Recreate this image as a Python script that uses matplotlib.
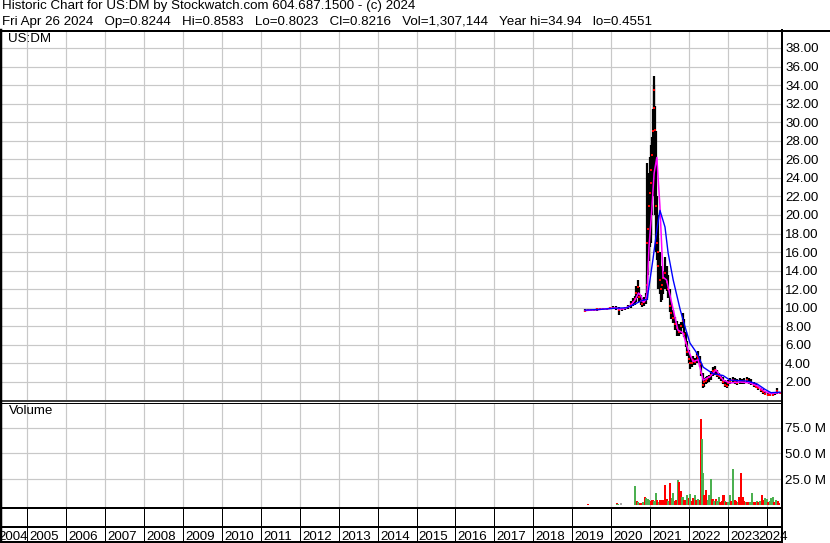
import matplotlib
matplotlib.use('Agg')
import matplotlib.pyplot as plt
from matplotlib.lines import Line2D

plt.rcParams['font.family'] = ['Liberation Sans', 'DejaVu Sans']
plt.rcParams['font.size'] = 9.6

# price bars: date (decimal year), high, low, close
bar_dates = [2019.33, 2019.40, 2019.48, 2019.56, 2019.64, 2019.72, 2019.80, 2019.88, 2019.96,
             2020.04, 2020.12, 2020.20, 2020.28, 2020.36, 2020.44, 2020.50, 2020.55, 2020.60,
             2020.64, 2020.68, 2020.72, 2020.76, 2020.80, 2020.84, 2020.88, 2020.91, 2020.93,
             2020.95, 2020.97, 2020.99, 2021.01, 2021.03, 2021.05, 2021.07, 2021.09, 2021.11,
             2021.13, 2021.15, 2021.17, 2021.19, 2021.21, 2021.24, 2021.27, 2021.30, 2021.34,
             2021.38, 2021.42, 2021.46, 2021.50, 2021.54, 2021.58, 2021.63, 2021.68, 2021.73,
             2021.78, 2021.83, 2021.87, 2021.91, 2021.95, 2021.99, 2022.03, 2022.07, 2022.11,
             2022.15, 2022.19, 2022.23, 2022.27, 2022.31, 2022.35, 2022.39, 2022.43, 2022.47,
             2022.51, 2022.56, 2022.61, 2022.66, 2022.71, 2022.76, 2022.81, 2022.86, 2022.91,
             2022.96, 2023.01, 2023.06, 2023.12, 2023.18, 2023.24, 2023.30, 2023.36, 2023.42,
             2023.48, 2023.54, 2023.60, 2023.66, 2023.72, 2023.78, 2023.84, 2023.90, 2023.96,
             2024.02, 2024.08, 2024.14, 2024.20, 2024.26, 2024.32]
highs = [9.85, 9.85, 9.90, 9.92, 9.95, 9.98, 10.00, 10.02, 10.10,
         10.15, 10.15, 10.10, 10.00, 10.10, 10.30, 10.70, 11.00, 11.30,
         12.30, 13.00, 12.20, 11.40, 11.00, 11.20, 11.60, 13.50, 25.60,
         23.00, 24.50, 26.30, 26.00, 27.50, 28.40, 31.40, 35.00, 34.00,
         31.70, 29.00, 22.00, 20.00, 17.50, 16.00, 14.50, 13.50, 14.00,
         15.50, 14.50, 13.50, 12.00, 10.50, 9.80, 9.00, 8.60, 8.20,
         8.50, 9.40, 8.80, 7.40, 6.40, 5.40, 4.80, 4.50, 4.80,
         4.60, 5.20, 5.30, 4.80, 4.00, 3.00, 2.40, 2.50, 2.60,
         2.80, 3.20, 3.60, 3.70, 3.30, 3.00, 2.80, 2.50, 2.20,
         2.00, 2.20, 2.40, 2.50, 2.40, 2.30, 2.40, 2.30, 2.40,
         2.50, 2.40, 2.30, 2.00, 1.80, 1.60, 1.40, 1.20, 1.00,
         0.80, 0.70, 0.75, 0.95, 1.35, 0.86]
lows = [9.55, 9.60, 9.62, 9.65, 9.70, 9.72, 9.75, 9.78, 9.82,
        9.85, 9.80, 9.25, 9.60, 9.80, 9.90, 10.00, 10.20, 10.30,
        10.60, 11.00, 10.60, 10.30, 10.10, 10.20, 10.40, 10.80, 11.00,
        13.50, 15.00, 16.50, 17.00, 18.00, 20.00, 22.00, 24.00, 25.00,
        20.00, 16.00, 15.20, 14.50, 12.00, 11.50, 10.60, 10.80, 11.50,
        12.00, 11.80, 11.00, 9.50, 8.80, 8.40, 7.60, 7.00, 7.00,
        7.20, 7.80, 6.80, 5.80, 4.80, 4.00, 3.40, 3.60, 3.80,
        3.80, 4.00, 4.20, 3.60, 2.60, 1.40, 1.50, 1.80, 1.90,
        2.00, 2.20, 2.60, 2.80, 2.50, 2.30, 2.10, 1.80, 1.50,
        1.40, 1.60, 1.80, 1.90, 1.80, 1.70, 1.80, 1.80, 1.80,
        1.90, 1.80, 1.70, 1.50, 1.30, 1.10, 0.90, 0.70, 0.60,
        0.50, 0.46, 0.50, 0.65, 0.75, 0.80]
closes = [9.70, 9.72, 9.75, 9.80, 9.82, 9.85, 9.88, 9.90, 9.95,
          10.00, 9.98, 9.80, 9.85, 9.95, 10.10, 10.40, 10.60, 10.90,
          11.60, 12.20, 11.20, 10.70, 10.40, 10.60, 10.90, 12.50, 17.00,
          18.50, 21.00, 22.40, 23.50, 24.90, 26.50, 29.00, 33.50, 31.50,
          29.20, 21.00, 17.00, 16.00, 14.50, 13.00, 12.00, 12.50, 13.20,
          13.80, 12.80, 12.00, 10.20, 9.40, 8.90, 8.30, 7.80, 7.40,
          8.00, 8.60, 7.20, 6.20, 5.20, 4.50, 4.00, 4.10, 4.40,
          4.20, 4.80, 4.60, 3.90, 3.00, 1.70, 2.00, 2.10, 2.30,
          2.50, 2.80, 3.20, 3.30, 2.80, 2.60, 2.40, 2.00, 1.70,
          1.60, 1.90, 2.10, 2.20, 2.00, 1.90, 2.10, 2.00, 2.10,
          2.20, 2.00, 1.90, 1.70, 1.50, 1.30, 1.10, 0.90, 0.75,
          0.62, 0.55, 0.62, 0.80, 1.00, 0.82]

# moving averages as drawn
ma_short_dates = [2019.33, 2019.60, 2019.90, 2020.10, 2020.22, 2020.35, 2020.50, 2020.62, 2020.70,
                  2020.76, 2020.82, 2020.88, 2020.92, 2020.97, 2021.04, 2021.10, 2021.17, 2021.25,
                  2021.33, 2021.42, 2021.58, 2021.71, 2021.84, 2021.97, 2022.10, 2022.23, 2022.36,
                  2022.54, 2022.69, 2022.87, 2023.05, 2023.31, 2023.56, 2023.74, 2023.95, 2024.10,
                  2024.32]
ma_short = [9.70, 9.78, 9.90, 9.98, 9.85, 9.92, 10.25, 10.90, 11.60,
            11.30, 10.60, 10.80, 11.60, 16.60, 20.50, 24.50, 26.20, 20.90,
            13.30, 13.00, 10.00, 7.60, 7.30, 5.50, 4.20, 4.40, 2.20,
            2.60, 3.30, 2.20, 1.90, 2.00, 1.90, 1.60, 0.95, 0.75,
            0.85]
ma_long_dates = [2019.33, 2019.70, 2020.10, 2020.40, 2020.60, 2020.80, 2020.92, 2021.07, 2021.18,
                 2021.25, 2021.38, 2021.46, 2021.59, 2021.77, 2021.89, 2022.02, 2022.20, 2022.36,
                 2022.61, 2022.87, 2023.05, 2023.49, 2023.74, 2023.95, 2024.10, 2024.33]
ma_long = [9.75, 9.82, 9.95, 10.00, 10.40, 10.80, 10.90, 15.20, 18.70,
           20.50, 18.70, 15.90, 13.00, 9.80, 8.00, 6.20, 5.10, 3.60,
           2.90, 2.70, 2.20, 2.10, 1.80, 1.20, 0.85, 0.90]

# volume bars (millions), u = up (green), d = down (red), n = unchanged
vol_dates = [2019.41, 2020.14, 2020.16, 2020.24,
             2020.61, 2020.65, 2020.69, 2020.74, 2020.78, 2020.82, 2020.86, 2020.90, 2020.94,
             2020.98, 2021.02, 2021.06, 2021.10, 2021.14, 2021.18, 2021.22, 2021.26, 2021.30,
             2021.34, 2021.38, 2021.42, 2021.46, 2021.51, 2021.55, 2021.59, 2021.63, 2021.67,
             2021.71, 2021.75, 2021.79, 2021.83, 2021.87, 2021.91, 2021.95, 2021.99, 2022.03,
             2022.07, 2022.11, 2022.15, 2022.19, 2022.23, 2022.27, 2022.31, 2022.32, 2022.36,
             2022.38, 2022.40, 2022.44, 2022.48, 2022.52, 2022.56, 2022.60, 2022.64, 2022.68,
             2022.72, 2022.76, 2022.80, 2022.84, 2022.88, 2022.92, 2022.96, 2023.00, 2023.04,
             2023.08, 2023.13, 2023.17, 2023.21, 2023.25, 2023.29, 2023.33, 2023.37, 2023.41,
             2023.45, 2023.49, 2023.53, 2023.57, 2023.62, 2023.66, 2023.70, 2023.74, 2023.78,
             2023.82, 2023.86, 2023.90, 2023.95, 2023.99, 2024.03, 2024.07, 2024.11, 2024.15,
             2024.19, 2024.23, 2024.27, 2024.31]
volumes = [1.0, 2.0, 1.0, 1.8,
           18.5, 4.0, 2.5, 2.0, 1.5, 3.0, 7.4, 7.0, 6.0,
           5.0, 4.0, 5.0, 3.5, 11.2, 5.0, 3.0, 4.5, 5.0,
           4.5, 19.5, 5.7, 3.5, 21.0, 7.0, 11.5, 4.0, 5.0,
           24.0, 22.0, 14.0, 8.0, 4.5, 5.0, 10.0, 6.5, 11.0,
           4.0, 7.0, 10.0, 4.5, 6.0, 5.0, 83.0, 64.5, 30.7,
           10.0, 8.0, 15.0, 5.0, 9.6, 25.0, 6.0, 4.0, 6.0,
           3.5, 8.0, 3.0, 4.0, 10.0, 4.0, 3.0, 3.0, 10.0,
           4.0, 34.6, 5.0, 4.0, 3.0, 8.0, 30.7, 8.0, 4.0,
           3.0, 2.5, 3.0, 3.0, 11.5, 3.0, 2.5, 4.0, 3.0,
           4.0, 10.0, 5.0, 7.0, 6.0, 3.0, 4.0, 7.0, 7.5,
           3.0, 5.0, 4.0, 2.0]
vol_dir = ['d', 'd', 'u', 'n',
           'u', 'd', 'u', 'd', 'd', 'u', 'd', 'u', 'u',
           'u', 'd', 'd', 'u', 'u', 'd', 'u', 'd', 'd',
           'd', 'd', 'd', 'u', 'd', 'u', 'u', 'd', 'd',
           'u', 'd', 'd', 'u', 'd', 'd', 'u', 'd', 'u',
           'd', 'd', 'u', 'd', 'u', 'd', 'd', 'u', 'u',
           'd', 'd', 'd', 'u', 'u', 'u', 'd', 'u', 'd',
           'u', 'u', 'd', 'd', 'd', 'u', 'd', 'u', 'u',
           'd', 'u', 'd', 'd', 'u', 'd', 'd', 'd', 'd',
           'u', 'd', 'd', 'u', 'u', 'd', 'd', 'u', 'd',
           'u', 'd', 'd', 'u', 'u', 'd', 'u', 'u', 'u',
           'd', 'u', 'd', 'd']

years = list(range(2005, 2025))
year_labels = [str(y) for y in range(2004, 2025)]
price_ticks = list(range(2, 40, 2))
vol_ticks = [25, 50, 75]

title1 = 'Historic Chart for US:DM by Stockwatch.com 604.687.1500 - (c) 2024'
title2 = ('Fri Apr 26 2024   Op=0.8244   Hi=0.8583   Lo=0.8023   Cl=0.8216   '
          'Vol=1,307,144   Year hi=34.94   lo=0.4551')

W, H = 830, 543
GRID = '#c8c8c8'
GREEN = '#4cb050'
RED = '#ff0000'
FS = 9.6


def rect(x0, y0, x1, y1):
    return [x0 / W, 1 - y1 / H, (x1 - x0) / W, (y1 - y0) / H]


def px(p):
    return p * 0.72


fig = plt.figure(figsize=(8.3, 5.43), dpi=100)

ax_p = fig.add_axes(rect(2, 31, 781, 400))
ax_v = fig.add_axes(rect(2, 403, 781, 508))
ax_y = fig.add_axes(rect(2, 508, 781, 543))

x_lo, x_hi = 2004.358, 2024.358

for ax in (ax_p, ax_v, ax_y):
    for s in ax.spines.values():
        s.set_visible(False)
    ax.set_xlim(x_lo, x_hi)

# price panel
ax_p.set_axisbelow(True)
ax_p.vlines(bar_dates, lows, highs, color='black', lw=1.6, zorder=3)
ax_p.plot(bar_dates, closes, 's', color=RED, ms=1.8, mew=0, zorder=4)
ax_p.plot(ma_short_dates, ma_short, color='#ff00ff', lw=1.1, zorder=5)
ax_p.plot(ma_long_dates, ma_long, color='#0000ff', lw=1.0, zorder=5)
ax_p.set_ylim(0.06, 39.83)
ax_p.set_xticks(years)
ax_p.set_xticklabels([])
ax_p.yaxis.tick_right()
ax_p.set_yticks(price_ticks)
ax_p.set_yticklabels(['%.2f' % v for v in price_ticks])
ax_p.tick_params(length=0, pad=3, labelsize=FS)
ax_p.grid(True, color=GRID, lw=px(1.2))

# volume panel
ax_v.set_axisbelow(True)
colors = {'u': GREEN, 'd': RED, 'n': '#a8a8a8'}
ax_v.bar(vol_dates, [v * 1e6 for v in volumes], width=0.055,
         color=[colors[d] for d in vol_dir], linewidth=0, antialiased=False, zorder=3)
ax_v.set_ylim(-2.9e6, 99e6)
ax_v.set_xticks(years)
ax_v.set_xticklabels([])
ax_v.yaxis.tick_right()
ax_v.set_yticks([v * 1e6 for v in vol_ticks])
ax_v.set_yticklabels(['%.1f M' % v for v in vol_ticks])
ax_v.tick_params(length=0, pad=3, labelsize=FS)
ax_v.grid(True, color=GRID, lw=px(1.2))

# year strip
ax_y.set_ylim(0, 1)
ax_y.set_xticks([])
ax_y.set_yticks([])
sep = 16 / 35
for y in years:
    ax_y.plot([y, y], [sep, 1], color='black', lw=px(1))
    if y != 2024:
        ax_y.plot([y, y], [0, sep], color='black', lw=px(1))
for lab in year_labels:
    y = int(lab)
    if y == 2004:
        xpos = 2004.27
    elif y == 2024:
        xpos = 2023.78
    else:
        xpos = y + 0.06
    ax_y.text(xpos, 3 / 35, lab, ha='left', va='baseline', fontsize=FS, clip_on=False)

# frame lines
def hline(y, x0, x1, w):
    fig.add_artist(Line2D([x0 / W, x1 / W], [1 - y / H, 1 - y / H], color='black', lw=px(w)))


def vline(x, y0, y1, w):
    fig.add_artist(Line2D([x / W, x / W], [1 - y0 / H, 1 - y1 / H], color='black', lw=px(w)))


hline(30.5, 0, 830, 2)
hline(400.5, 0, 782, 1.5)
hline(403, 0, 782, 1)
hline(508, 0, 782, 2)
hline(527, 0, 782, 2)
hline(542, 0, 782, 2)
vline(1, 30, 543, 2.5)
vline(782, 30, 543, 2)

fig.text(2 / W, 1 - 0.5 / H, title1, ha='left', va='top', fontsize=FS)
fig.text(2 / W, 1 - 15.5 / H, title2, ha='left', va='top', fontsize=FS)
fig.text(8 / W, 1 - 33.3 / H, 'US:DM', ha='left', va='top', fontsize=FS)
fig.text(9 / W, 1 - 405.3 / H, 'Volume', ha='left', va='top', fontsize=FS)

fig.savefig('out.png', dpi=100)
